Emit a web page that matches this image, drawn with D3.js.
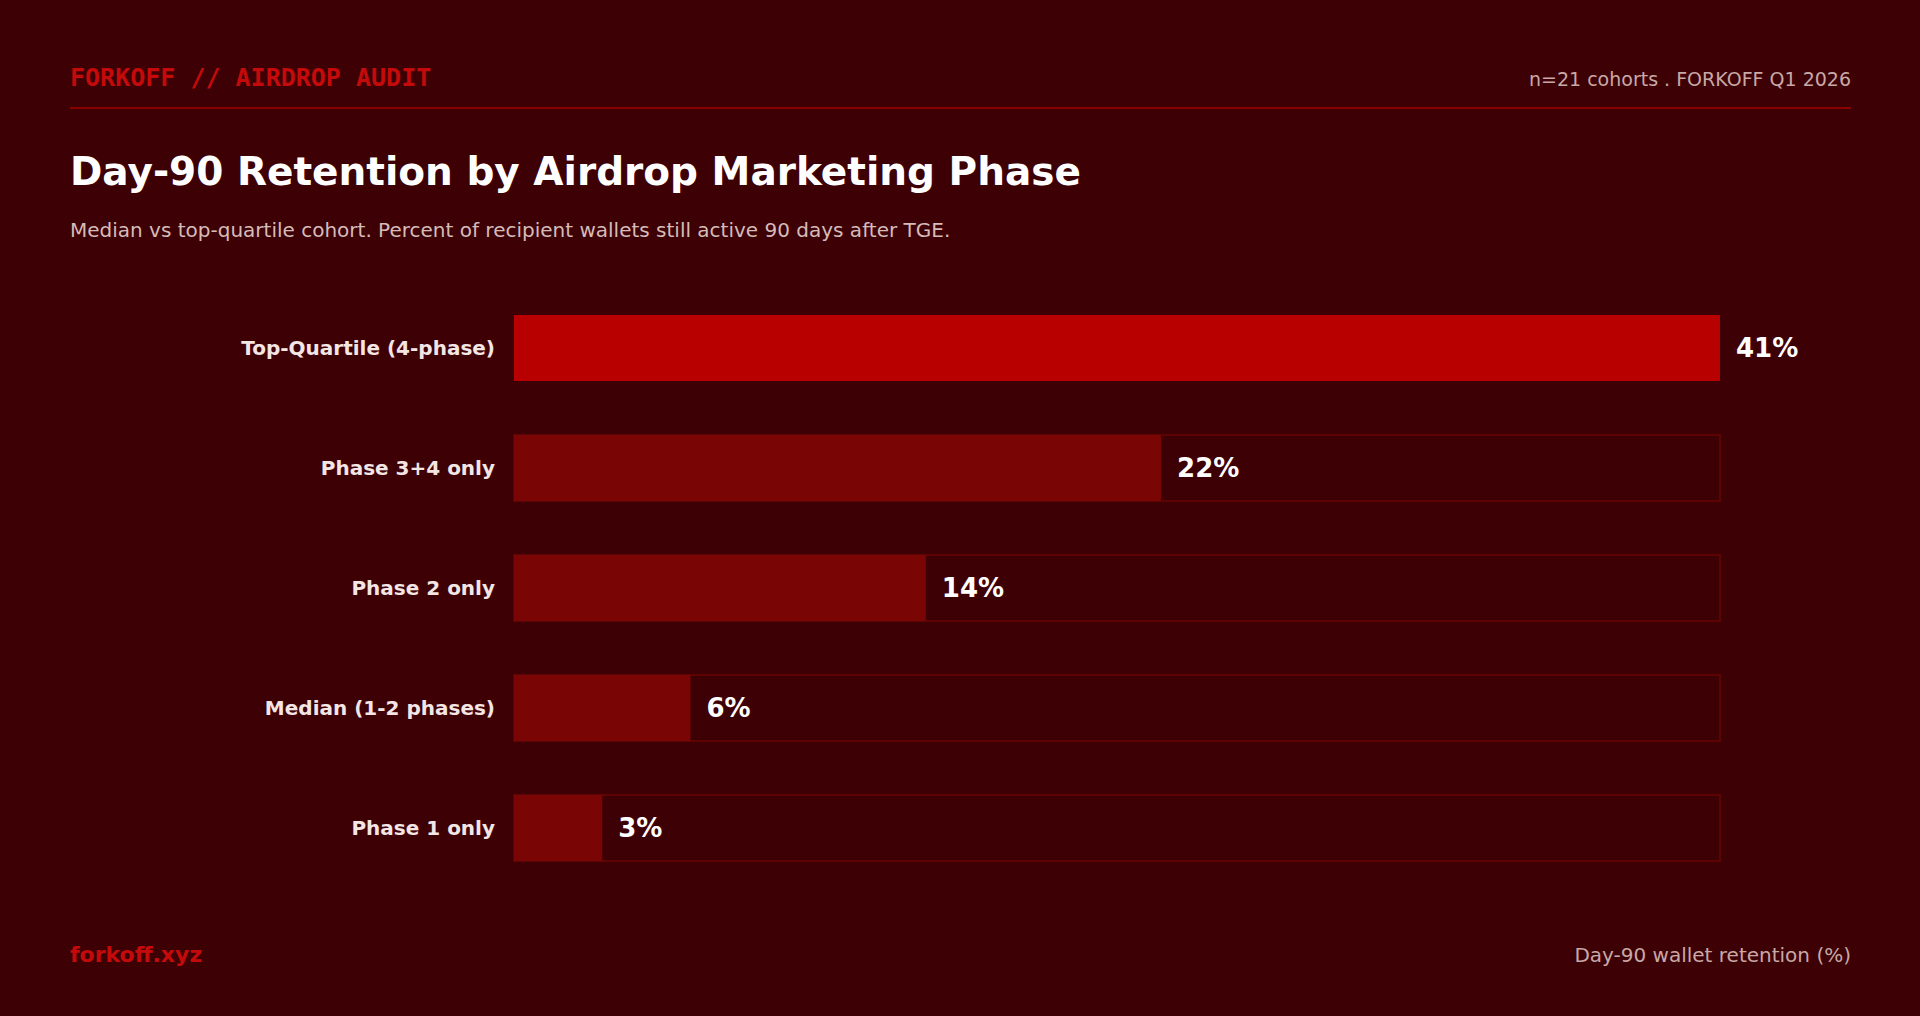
<!DOCTYPE html><html><head><meta charset="utf-8"><script src="https://cdn.jsdelivr.net/npm/d3@7"></script>
<style>body{margin:0;background:#3d0005;}</style></head><body><svg id="c" width="1920" height="1016"></svg>
<script>
const categories=["Top-Quartile (4-phase)","Phase 3+4 only","Phase 2 only","Median (1-2 phases)","Phase 1 only"];
const values=[41,22,14,6,3];
const valueLabels=["41%","22%","14%","6%","3%"];
const svg=d3.select("#c");
svg.append("rect").attr("width",1920).attr("height",1016).attr("fill","#3d0005");
const F="'DejaVu Sans', sans-serif";
svg.append("text").attr("x",70).attr("y",86).attr("fill","#c40a0a").attr("font-family","'DejaVu Sans Mono',monospace").attr("font-weight",700).attr("font-size",25).text("FORKOFF // AIRDROP AUDIT");
svg.append("text").attr("x",1851).attr("y",86).attr("text-anchor","end").attr("fill","#c9a9a6").attr("font-family",F).attr("font-size",19).text("n=21 cohorts . FORKOFF Q1 2026");
svg.append("line").attr("x1",70).attr("x2",1851).attr("y1",108).attr("y2",108).attr("stroke","#8a0000").attr("stroke-width",2);
svg.append("text").attr("x",70).attr("y",185).attr("fill","#fff").attr("font-family",F).attr("font-weight",700).attr("font-size",39).text("Day-90 Retention by Airdrop Marketing Phase");
svg.append("text").attr("x",70).attr("y",237).attr("fill","#d6bcb8").attr("font-family",F).attr("font-size",20).text("Median vs top-quartile cohort. Percent of recipient wallets still active 90 days after TGE.");
const x=d3.scaleLinear().domain([0,41]).range([514,1720]);
const y=d3.scaleBand().domain(categories).range([288,888]).paddingInner(0.45).paddingOuter(0.225);
const g=svg.append("g");
categories.forEach((c,i)=>{
  const yy=y(c),h=y.bandwidth();
  g.append("rect").attr("x",x(0)).attr("y",yy).attr("width",x(41)-x(0)).attr("height",h).attr("fill","#3d0005").attr("stroke",i===0?"none":"#5e0303").attr("stroke-width",2);
  g.append("rect").attr("x",x(0)).attr("y",yy).attr("width",x(values[i])-x(0)).attr("height",h).attr("fill",i===0?"#b80000":"#7a0505");
  g.append("text").attr("x",495).attr("y",yy+h/2).attr("dy","0.35em").attr("text-anchor","end").attr("fill","#f3e6e4").attr("font-family",F).attr("font-weight",700).attr("font-size",20).text(c);
  g.append("text").attr("x",x(values[i])+16).attr("y",yy+h/2).attr("dy","0.35em").attr("fill","#fff").attr("font-family",F).attr("font-weight",700).attr("font-size",26).text(valueLabels[i]);
});
svg.append("text").attr("x",70).attr("y",962).attr("fill","#c40a0a").attr("font-family",F).attr("font-weight",700).attr("font-size",22).text("forkoff.xyz");
svg.append("text").attr("x",1851).attr("y",962).attr("text-anchor","end").attr("fill","#c9a9a6").attr("font-family",F).attr("font-size",20).text("Day-90 wallet retention (%)");
</script></body></html>
